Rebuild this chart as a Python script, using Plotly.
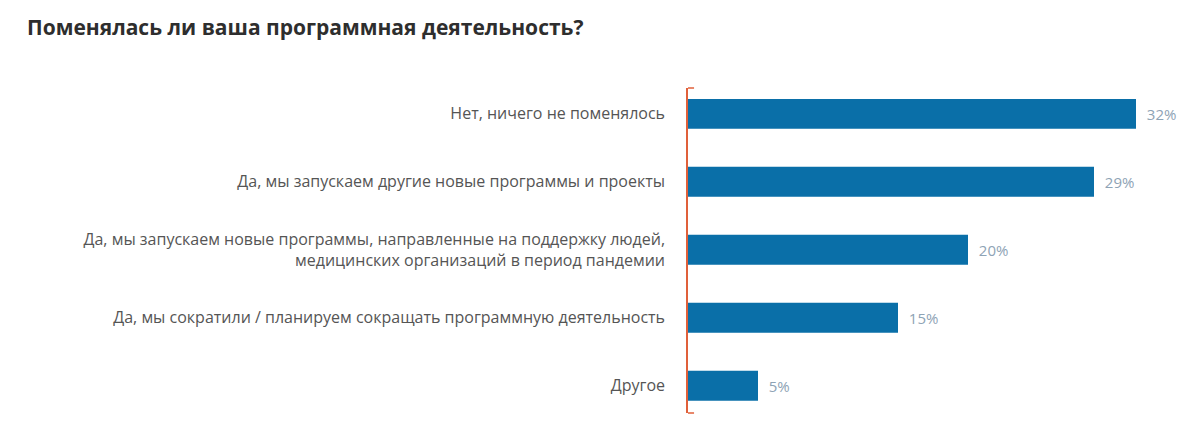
import plotly.graph_objects as go

categories = [
    "Нет, ничего не поменялось",
    "Да, мы запускаем другие новые программы и проекты",
    "Да, мы запускаем новые программы, направленные на поддержку людей,<br>медицинских организаций в период пандемии",
    "Да, мы сократили / планируем сокращать программную деятельность",
    "Другое",
]
values = [32, 29, 20, 15, 5]
value_labels = ["32%", "29%", "20%", "15%", "5%"]

FONT = "Open Sans"
W, H = 1192, 438  # page body adds an 8px offset

fig = go.Figure(go.Bar(
    x=values, y=categories, orientation="h",
    marker=dict(color="#0a6fa8", line=dict(width=0)),
    width=0.44,
    text=value_labels, texttemplate="  %{text}", textposition="outside",
    textfont=dict(family=FONT, size=15, color="#8ea3b5"),
    cliponaxis=False,
))

fig.update_layout(
    width=W, height=H,
    margin=dict(l=680, r=8, t=80, b=33),
    paper_bgcolor="white", plot_bgcolor="white",
    title=dict(text="<b>Поменялась ли ваша программная деятельность?</b>",
               x=19/W, xanchor="left", xref="container",
               y=1-20/H, yanchor="middle", yref="container",
               font=dict(family=FONT, size=21, color="#2e2e2e")),
    showlegend=False,
    xaxis=dict(range=[0, 36], visible=False, fixedrange=True),
    yaxis=dict(range=[4.4, -0.38], showline=True, linecolor="#e0603a", linewidth=1.5,
               showgrid=False, zeroline=False, ticks="", ticklabelstandoff=18,
               tickfont=dict(family=FONT, size=16, color="#555555")),
    shapes=[
        dict(type="line", xref="paper", yref="paper", x0=0, x1=0.012, y0=1, y1=1,
             line=dict(color="#e0603a", width=1.5)),
        dict(type="line", xref="paper", yref="paper", x0=0, x1=0.012, y0=0, y1=0,
             line=dict(color="#e0603a", width=1.5)),
    ],
)

fig.write_html("out.html")
